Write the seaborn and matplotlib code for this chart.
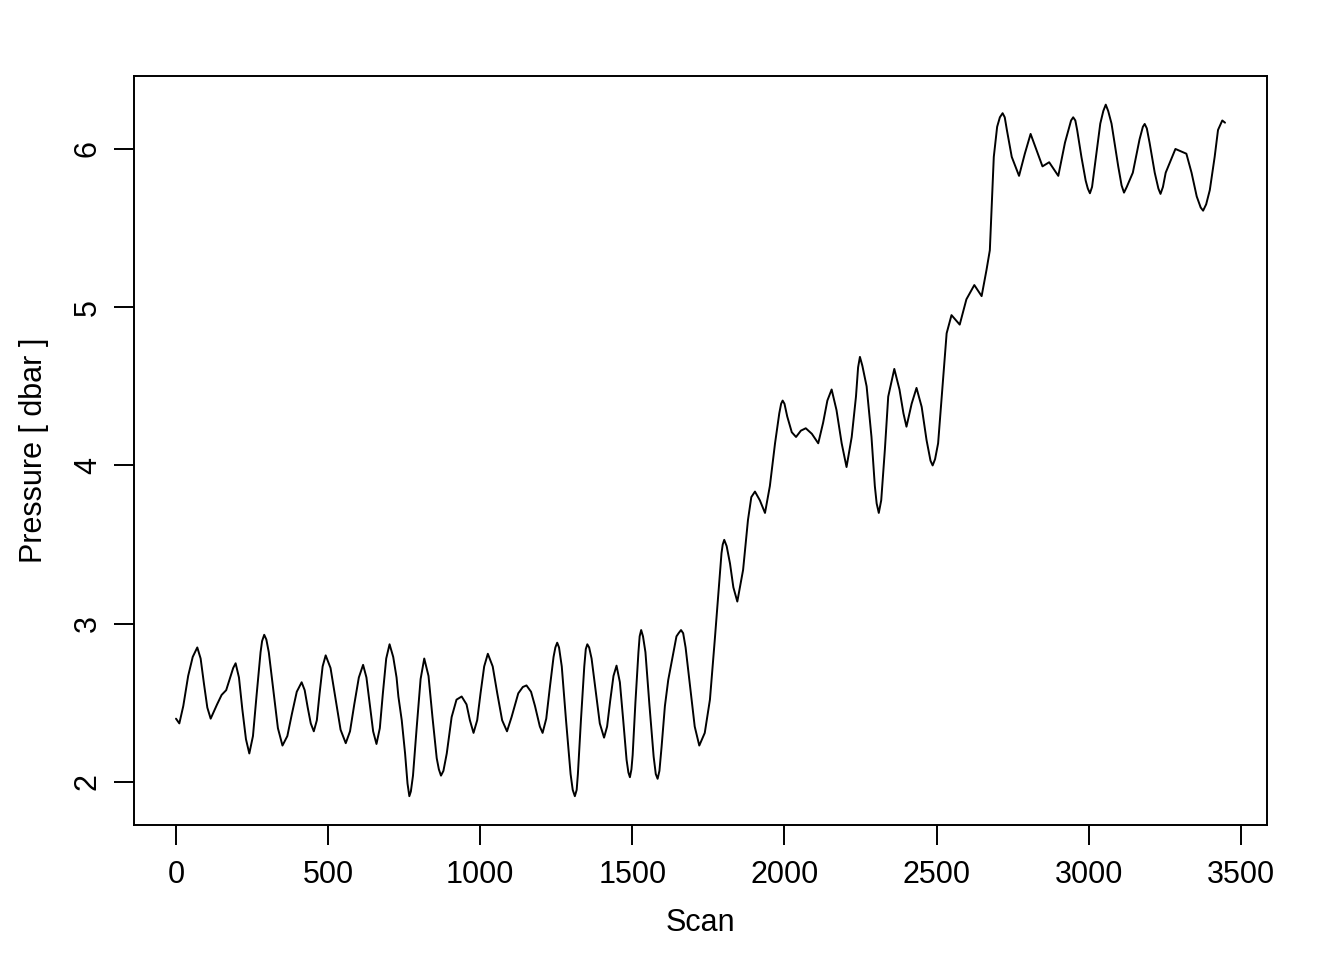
import matplotlib
matplotlib.use('Agg')
import matplotlib.pyplot as plt
import seaborn as sns
import pandas as pd

# values (scan index, pressure in dbar)
scan = [0, 11, 24, 40, 55, 70, 81, 92, 103, 114, 135, 150, 165, 180, 188, 196,
        207, 218, 230, 241, 253, 265, 278, 283, 290, 297, 305, 320, 335, 350, 366, 381,
        397, 413, 423, 433, 443, 453, 463, 472, 482, 492, 508, 525, 541, 558,
        572, 586, 601, 615, 626, 637, 648, 659, 670, 680, 691, 702, 714, 725,
        731, 742, 753, 761, 767, 772, 779, 791, 804, 816, 830, 843, 857, 864, 871, 879, 890,
        906, 922, 939, 955, 966, 978, 990, 1001, 1013, 1025, 1041, 1056, 1072,
        1088, 1103, 1125, 1140, 1152, 1167, 1180, 1196, 1205, 1217, 1229, 1241,
        1247, 1253, 1259, 1268, 1282, 1297, 1304, 1311, 1317, 1321, 1331, 1342, 1347, 1352, 1358,
        1366, 1380, 1393,
        1407, 1417, 1427, 1438, 1448, 1459, 1470, 1481, 1487, 1492, 1497, 1501, 1510, 1520,
        1524, 1529, 1535, 1543, 1556, 1570, 1577, 1583, 1589, 1596, 1607, 1618, 1634, 1645,
        1652, 1660, 1667, 1675,
        1690, 1705, 1720, 1738, 1755, 1771, 1782, 1793, 1797, 1802, 1810, 1821, 1832, 1845,
        1864, 1880, 1891, 1903, 1919, 1936, 1952, 1969, 1983, 1989, 1994, 2000, 2009, 2024,
        2038, 2054, 2070, 2090, 2111, 2127, 2141, 2155, 2171, 2188, 2204, 2221,
        2235, 2242, 2248, 2256, 2270, 2286, 2297, 2303, 2310, 2318, 2330, 2341, 2361, 2378,
        2391, 2401,
        2418, 2434, 2451, 2467, 2480, 2487, 2495, 2505, 2522, 2533, 2549, 2576, 2598, 2624,
        2648, 2664, 2675, 2681, 2688, 2699, 2708, 2717, 2724, 2731, 2747, 2771, 2790, 2809,
        2829, 2848, 2870, 2900, 2922, 2942, 2949, 2956, 2962, 2976, 2990, 2997, 3004, 3011,
        3021, 3038, 3048, 3056, 3064, 3075, 3097, 3108, 3116, 3125, 3145, 3167, 3178, 3184,
        3191, 3200, 3217, 3229, 3236, 3244, 3253, 3285,
        3321, 3338, 3355, 3368, 3376, 3386, 3398, 3414, 3425, 3439, 3448]

pressure = [2.40, 2.37, 2.48, 2.67, 2.79, 2.85, 2.78, 2.62, 2.47, 2.40, 2.49, 2.55,
            2.58, 2.67, 2.72, 2.75, 2.66, 2.46, 2.27, 2.18, 2.29, 2.55, 2.82, 2.89, 2.93, 2.90,
            2.82, 2.58, 2.34, 2.23, 2.29, 2.43, 2.57, 2.63, 2.58, 2.47, 2.37, 2.32,
            2.39, 2.56, 2.73, 2.80, 2.72, 2.52, 2.33, 2.245, 2.32, 2.49, 2.66, 2.74,
            2.66, 2.49, 2.32, 2.24, 2.34, 2.56, 2.78, 2.87, 2.79, 2.66, 2.54, 2.39,
            2.18, 1.99, 1.91, 1.94, 2.04, 2.34, 2.65, 2.78, 2.67, 2.41, 2.15, 2.08, 2.04, 2.07,
            2.18,
            2.41, 2.52, 2.54, 2.49, 2.39, 2.31, 2.39, 2.56, 2.73, 2.81, 2.73, 2.56,
            2.39, 2.32, 2.41, 2.56, 2.60, 2.61, 2.57, 2.48, 2.35, 2.31, 2.40, 2.60,
            2.79, 2.85, 2.88, 2.85, 2.73, 2.39, 2.05, 1.95, 1.91, 1.95, 2.05, 2.39, 2.73, 2.84,
            2.87, 2.85, 2.78, 2.57,
            2.37, 2.28, 2.35, 2.51, 2.67, 2.735, 2.63, 2.39, 2.14, 2.06, 2.03, 2.08, 2.17, 2.50,
            2.82, 2.92, 2.96, 2.92, 2.82, 2.49, 2.16, 2.05, 2.02, 2.07, 2.22, 2.48, 2.645, 2.81,
            2.92, 2.94, 2.96, 2.94,
            2.85, 2.60, 2.35, 2.23, 2.31, 2.52, 2.90, 3.17, 3.445, 3.50, 3.53, 3.49, 3.38, 3.23,
            3.14, 3.34, 3.655, 3.80, 3.835, 3.78, 3.70, 3.87, 4.14, 4.33, 4.39, 4.41, 4.39, 4.31,
            4.21, 4.18, 4.22, 4.235, 4.20, 4.14, 4.27, 4.41, 4.48, 4.35, 4.14, 3.99,
            4.18, 4.435, 4.62, 4.686, 4.63, 4.50, 4.18, 3.87, 3.76, 3.70, 3.78, 4.10, 4.435,
            4.61, 4.48, 4.33,
            4.245, 4.39, 4.49, 4.37, 4.16, 4.03, 4.00, 4.04, 4.14, 4.56, 4.835, 4.95, 4.89,
            5.05,
            5.14, 5.07, 5.235, 5.36, 5.635, 5.95, 6.14, 6.20, 6.226, 6.20, 6.12, 5.95, 5.83,
            5.97,
            6.095, 5.99, 5.89, 5.916, 5.83, 6.04, 6.18, 6.20, 6.18, 6.12, 5.95, 5.80, 5.75,
            5.72, 5.76, 5.91,
            6.16, 6.24, 6.28, 6.24, 6.16, 5.89, 5.77, 5.724, 5.76, 5.85, 6.06, 6.14, 6.158,
            6.13, 6.04, 5.85, 5.75, 5.716, 5.76, 5.85,
            6.00, 5.97, 5.85, 5.70, 5.63, 5.61, 5.65, 5.74, 5.95, 6.12, 6.18, 6.166]

x_ticks = [0, 500, 1000, 1500, 2000, 2500, 3000, 3500]
y_ticks = [2, 3, 4, 5, 6]

df = pd.DataFrame({"Scan": scan, "Pressure": pressure})

sns.set_style("white")
plt.rcParams['font.family'] = ['Liberation Sans', 'DejaVu Sans']
plt.rcParams['font.size'] = 22
plt.rcParams['text.color'] = 'black'
plt.rcParams['axes.labelcolor'] = 'black'
plt.rcParams['xtick.color'] = 'black'
plt.rcParams['ytick.color'] = 'black'

fig = plt.figure(figsize=(13.44, 9.6), dpi=100)
ax = fig.add_axes([134 / 1344, 1 - 825 / 960, (1267 - 134) / 1344, (825 - 76) / 960])

line = sns.lineplot(data=df, x="Scan", y="Pressure", estimator=None, sort=False,
                    color="black", linewidth=1.4, ax=ax)
for ln in ax.get_lines():
    ln.set_solid_joinstyle("round")

ax.set_xlim(-138, 3586)
ax.set_ylim(1.728, 6.461)
ax.set_xticks(x_ticks)
ax.set_yticks(y_ticks)
ax.set_xticklabels([str(t) for t in x_ticks])
ax.set_yticklabels([str(t) for t in y_ticks], rotation=90, va="center")

for side in ax.spines.values():
    side.set_visible(True)
    side.set_color("black")
    side.set_linewidth(1.4)

ax.tick_params(axis="both", direction="out", length=14.4, width=1.4,
               colors="black", labelsize=22, bottom=True, left=True)
ax.tick_params(axis="x", pad=11)
ax.tick_params(axis="y", pad=8)
ax.set_xlabel("Scan", fontsize=22, labelpad=13)
ax.set_ylabel("Pressure [ dbar ]", fontsize=22, labelpad=17)

fig.savefig("out.png", dpi=100)
plt.close(fig)
